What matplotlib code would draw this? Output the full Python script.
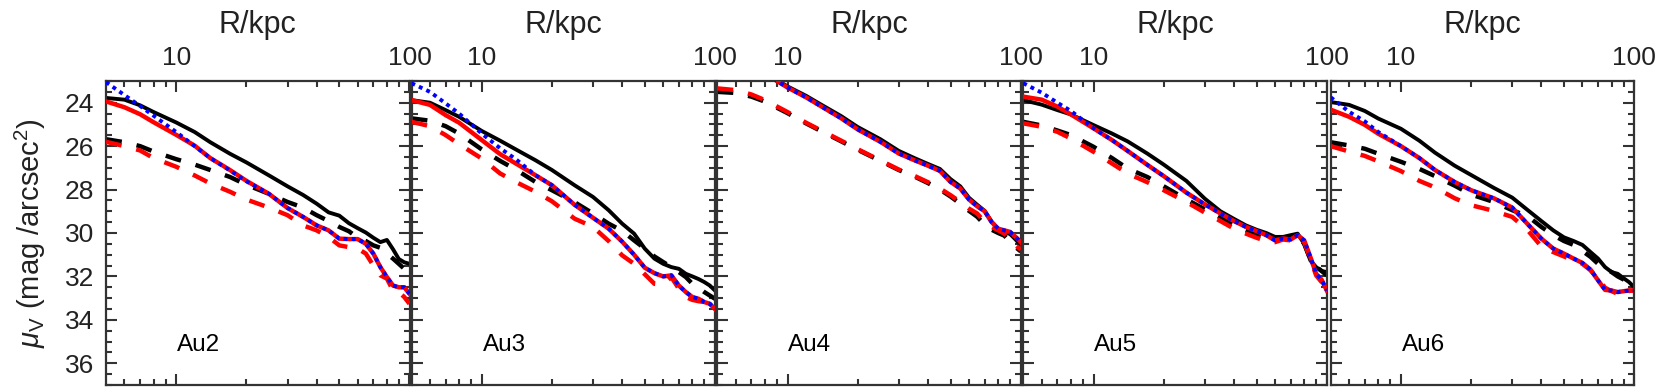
import matplotlib
matplotlib.use("Agg")
import matplotlib.pyplot as plt
from matplotlib.ticker import FixedLocator, MultipleLocator, NullFormatter, FixedFormatter

plt.rcParams['font.family'] = ['Liberation Sans', 'DejaVu Sans']
plt.rcParams['mathtext.fontset'] = 'custom'
plt.rcParams['mathtext.rm'] = 'Liberation Sans'
plt.rcParams['mathtext.it'] = 'Liberation Sans:italic'

# ---------------- data ----------------
R = [5, 6, 7, 8, 10, 12, 14, 17, 20, 25, 30, 35, 40, 45, 50, 55, 60, 65, 70, 75, 80, 85, 90, 95, 100]

halo_names = ["Au2", "Au3", "Au4", "Au5", "Au6"]

# Au2
bs_au2 = [23.78, 23.86, 24.12, 24.43, 24.91, 25.35, 25.82, 26.35, 26.75, 27.35, 27.85, 28.25, 28.65, 29.05, 29.20, 29.55, 29.78, 29.98, 30.22, 30.42, 30.32, 30.75, 31.20, 31.35, 31.42]
bd_au2 = [25.68, 25.82, 26.00, 26.25, 26.60, 26.85, 27.10, 27.42, 27.78, 28.20, 28.57, 28.83, 29.18, 29.45, 29.72, 29.92, 30.22, 30.37, 30.57, 30.68, 30.95, 31.18, 31.42, 31.65, 31.80]
rs_au2 = [23.94, 24.21, 24.53, 24.90, 25.48, 25.98, 26.55, 27.10, 27.60, 28.20, 28.85, 29.26, 29.65, 29.88, 30.26, 30.28, 30.28, 30.50, 30.95, 31.57, 32.03, 32.42, 32.50, 32.50, 32.80]
rd_au2 = [25.80, 26.00, 26.20, 26.55, 26.95, 27.35, 27.72, 28.10, 28.46, 28.83, 29.18, 29.65, 29.88, 30.18, 30.57, 30.65, 30.72, 30.95, 31.50, 31.95, 32.10, 32.65, 32.72, 32.95, 33.26]
bl_au2 = [23.05, 23.65, 24.15, 24.60, 25.35, 26.00, 26.55, 27.12, 27.62, 28.20, 28.85, 29.26, 29.65, 29.88, 30.26, 30.28, 30.28, 30.50, 30.95, 31.57, 32.03, 32.42, 32.50, 32.50, 32.80]

# Au3
bs_au3 = [23.88, 24.00, 24.34, 24.65, 25.30, 25.75, 26.15, 26.65, 27.10, 27.80, 28.34, 28.95, 29.57, 30.03, 30.72, 31.18, 31.42, 31.57, 31.65, 31.88, 32.00, 32.12, 32.26, 32.42, 32.65]
bd_au3 = [24.72, 24.83, 25.08, 25.42, 26.15, 26.68, 27.08, 27.65, 28.03, 28.58, 29.10, 29.57, 29.90, 30.34, 30.72, 31.08, 31.34, 31.57, 31.80, 32.03, 32.34, 32.52, 32.72, 32.88, 33.03]
rs_au3 = [23.88, 24.10, 24.57, 24.92, 25.72, 26.37, 26.80, 27.34, 27.80, 28.70, 29.30, 29.80, 30.40, 31.00, 31.60, 31.85, 32.00, 31.95, 32.42, 32.72, 32.95, 33.03, 33.18, 33.26, 33.50]
rd_au3 = [24.88, 25.08, 25.49, 25.91, 26.57, 27.26, 27.65, 28.10, 28.54, 29.34, 29.72, 30.37, 31.03, 31.42, 31.90, 32.34, 32.37, 32.03, 32.57, 32.95, 33.08, 33.14, 33.18, 33.34, 33.50]
bl_au3 = [23.10, 23.50, 24.03, 24.50, 25.42, 26.10, 26.60, 27.34, 27.80, 28.70, 29.30, 29.80, 30.40, 31.00, 31.60, 31.85, 32.00, 31.95, 32.42, 32.72, 32.95, 33.03, 33.18, 33.26, 33.50]

# Au4
bs_au4 = [21.30, 21.82, 22.25, 22.62, 23.25, 23.68, 24.10, 24.62, 25.12, 25.68, 26.22, 26.55, 26.82, 27.05, 27.52, 27.85, 28.38, 28.70, 28.98, 29.48, 29.82, 29.95, 30.05, 30.30, 30.57]
bd_au4 = [23.50, 23.55, 23.72, 23.95, 24.48, 24.95, 25.32, 25.78, 26.17, 26.68, 27.10, 27.40, 27.70, 28.00, 28.32, 28.65, 28.98, 29.25, 29.62, 29.85, 30.00, 30.12, 30.40, 30.65, 30.85]
rs_au4 = [21.34, 21.86, 22.29, 22.66, 23.30, 23.75, 24.18, 24.72, 25.23, 25.80, 26.34, 26.65, 26.90, 27.14, 27.65, 27.95, 28.46, 28.77, 29.00, 29.50, 29.80, 29.88, 29.95, 30.18, 30.42]
rd_au4 = [23.34, 23.42, 23.62, 23.88, 24.43, 24.92, 25.29, 25.75, 26.14, 26.66, 27.08, 27.37, 27.66, 27.95, 28.26, 28.57, 28.88, 29.10, 29.50, 29.72, 29.88, 30.03, 30.30, 30.57, 30.77]
bl_au4 = [21.34, 21.86, 22.29, 22.66, 23.30, 23.75, 24.18, 24.72, 25.23, 25.80, 26.34, 26.65, 26.90, 27.14, 27.65, 27.95, 28.46, 28.77, 29.00, 29.50, 29.80, 29.88, 29.95, 30.18, 30.42]

# Au5
bs_au5 = [23.88, 24.09, 24.34, 24.54, 25.03, 25.42, 25.78, 26.34, 26.85, 27.60, 28.42, 29.00, 29.35, 29.65, 29.85, 30.00, 30.18, 30.18, 30.10, 30.03, 30.50, 31.26, 31.57, 31.75, 31.80]
bd_au5 = [24.88, 25.05, 25.28, 25.49, 26.03, 26.55, 27.03, 27.42, 27.85, 28.45, 28.91, 29.29, 29.65, 29.88, 30.06, 30.18, 30.30, 30.22, 30.15, 30.10, 30.50, 31.20, 31.55, 31.75, 31.95]
rs_au5 = [23.72, 23.86, 24.18, 24.54, 25.18, 25.72, 26.22, 26.86, 27.38, 28.14, 28.68, 29.10, 29.45, 29.72, 29.91, 30.10, 30.34, 30.25, 30.30, 30.10, 30.34, 31.10, 31.88, 32.15, 32.65]
rd_au5 = [24.95, 25.11, 25.34, 25.65, 26.26, 26.80, 27.26, 27.66, 28.03, 28.57, 29.06, 29.45, 29.80, 30.03, 30.22, 30.37, 30.42, 30.30, 30.34, 30.15, 30.42, 31.18, 31.95, 32.26, 32.68]
bl_au5 = [23.10, 23.54, 24.00, 24.38, 25.18, 25.72, 26.22, 26.86, 27.38, 28.14, 28.68, 29.10, 29.45, 29.72, 29.91, 30.10, 30.34, 30.25, 30.30, 30.10, 30.34, 31.10, 31.88, 32.15, 32.65]

# Au6
bs_au6 = [23.97, 24.10, 24.38, 24.73, 25.20, 25.75, 26.30, 26.90, 27.33, 27.92, 28.37, 28.95, 29.45, 29.88, 30.20, 30.37, 30.55, 30.88, 31.18, 31.57, 31.80, 31.88, 32.08, 32.26, 32.50]
bd_au6 = [25.82, 25.97, 26.12, 26.35, 26.72, 27.05, 27.38, 27.82, 28.23, 28.57, 28.95, 29.23, 29.72, 30.10, 30.37, 30.55, 30.83, 31.10, 31.42, 31.65, 31.80, 32.00, 32.14, 32.26, 32.42]
rs_au6 = [24.32, 24.65, 25.02, 25.43, 26.00, 26.55, 27.10, 27.65, 28.03, 28.40, 28.83, 29.60, 30.26, 30.72, 30.95, 31.18, 31.38, 31.69, 32.18, 32.62, 32.65, 32.72, 32.68, 32.65, 32.65]
rd_au6 = [26.00, 26.25, 26.45, 26.70, 27.15, 27.60, 27.90, 28.40, 28.72, 28.98, 29.26, 29.88, 30.62, 30.88, 31.08, 31.26, 31.42, 31.72, 32.10, 32.52, 32.68, 32.80, 32.95, 32.65, 32.65]
bl_au6 = [23.75, 24.42, 24.86, 25.35, 26.00, 26.55, 27.10, 27.65, 28.03, 28.40, 28.83, 29.60, 30.26, 30.72, 30.95, 31.18, 31.38, 31.69, 32.18, 32.62, 32.65, 32.72, 32.68, 32.65, 32.65]

x_ticks = [10, 100]
x_ticklabels = ["10", "100"]
y_ticks = [24, 26, 28, 30, 32, 34, 36]
y_ticklabels = ["24", "26", "28", "30", "32", "34", "36"]

panels = [
    (bs_au2, bd_au2, rs_au2, rd_au2, bl_au2),
    (bs_au3, bd_au3, rs_au3, rd_au3, bl_au3),
    (bs_au4, bd_au4, rs_au4, rd_au4, bl_au4),
    (bs_au5, bd_au5, rs_au5, rd_au5, bl_au5),
    (bs_au6, bd_au6, rs_au6, rd_au6, bl_au6),
]

# ---------------- layout ----------------
W, H = 1661, 390
fig = plt.figure(figsize=(W / 100, H / 100), dpi=100)
lefts_px = [106, 411.5, 717.3, 1023.3, 1330.7]
width_px = 303.5
top_px, bottom_px = 81, 385

frame_col = '#333333'
text_col = '#222222'
for i, (name, series) in enumerate(zip(halo_names, panels)):
    ax = fig.add_axes([lefts_px[i] / W, 1 - bottom_px / H, width_px / W, (bottom_px - top_px) / H])
    bs, bd, rs, rd, bl = series
    ax.plot(R, bs, color='black', lw=2.8, ls='-', zorder=2)
    ax.plot(R, bd, color='black', lw=3.2, dashes=(3.6, 3.4), zorder=2)
    ax.plot(R, rs, color='red', lw=3.2, ls='-', zorder=3)
    ax.plot(R, rd, color='red', lw=3.2, dashes=(3.6, 3.4), zorder=3)
    ax.plot(R, bl, color='blue', lw=2.8, dashes=(1.0, 1.1), zorder=4)

    ax.set_xscale('log')
    ax.set_xlim(5, 100)
    ax.set_ylim(37, 23)

    ax.xaxis.set_major_locator(FixedLocator(x_ticks))
    ax.xaxis.set_major_formatter(FixedFormatter(x_ticklabels))
    ax.xaxis.set_minor_locator(FixedLocator([6, 7, 8, 9, 20, 30, 40, 50, 60, 70, 80, 90]))
    ax.xaxis.set_minor_formatter(NullFormatter())
    ax.yaxis.set_major_locator(FixedLocator(y_ticks))
    ax.yaxis.set_minor_locator(MultipleLocator(0.5))

    ax.tick_params(which='both', direction='in', top=True, bottom=True, left=True, right=True,
                   labeltop=True, labelbottom=False, labelleft=(i == 0), labelright=False,
                   color=frame_col, width=1.5, labelsize=19, labelcolor=text_col)
    ax.tick_params(which='major', length=8)
    ax.tick_params(which='minor', length=4.5)
    ax.tick_params(axis='x', which='major', pad=7.6)
    ax.tick_params(axis='y', which='major', pad=8.6)
    if i == 0:
        ax.set_yticklabels(y_ticklabels)
        ax.set_ylabel(r'$\mu_{\rm V}$ (mag /arcsec$^2$)', fontsize=21, color=text_col, labelpad=12)
    for sp in ax.spines.values():
        sp.set_color(frame_col)
        sp.set_linewidth(1.6)
    ax.xaxis.set_label_position('top')
    ax.set_xlabel('R/kpc', fontsize=22, color=text_col, labelpad=9.4)
    ax.text(0.234, 0.112, name, transform=ax.transAxes, fontsize=17.5, color='black',
            va='baseline', ha='left')

fig.savefig('out.png', dpi=100)
